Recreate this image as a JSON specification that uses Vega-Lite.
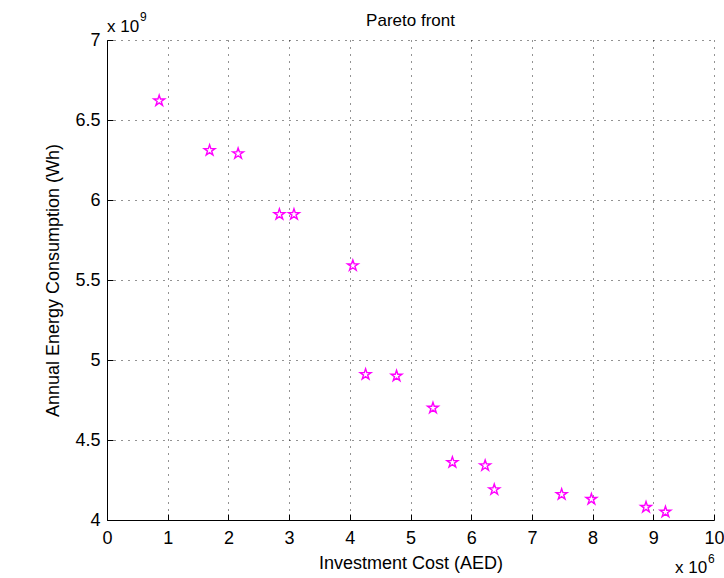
{
  "$schema": "https://vega.github.io/schema/vega-lite/v6.json",
  "width": 607,
  "height": 480,
  "autosize": {"type": "none"},
  "padding": {"left": 107, "top": 40, "right": 10, "bottom": 58},
  "background": "white",
  "config": {
    "view": {"stroke": null},
    "font": "Liberation Sans"
  },
  "data": {
    "values": [
      {"cost": 860000, "energy": 6620000000},
      {"cost": 1690000, "energy": 6310000000},
      {"cost": 2160000, "energy": 6290000000},
      {"cost": 2840000, "energy": 5910000000},
      {"cost": 3080000, "energy": 5910000000},
      {"cost": 4050000, "energy": 5590000000},
      {"cost": 4260000, "energy": 4910000000},
      {"cost": 4770000, "energy": 4900000000},
      {"cost": 5370000, "energy": 4700000000},
      {"cost": 5690000, "energy": 4360000000},
      {"cost": 6230000, "energy": 4340000000},
      {"cost": 6380000, "energy": 4190000000},
      {"cost": 7490000, "energy": 4160000000},
      {"cost": 7980000, "energy": 4130000000},
      {"cost": 8880000, "energy": 4080000000},
      {"cost": 9200000, "energy": 4050000000}
    ]
  },
  "layer": [
    {
      "mark": {
        "type": "point",
        "shape": "M0,-1L0.225,-0.309L0.951,-0.309L0.363,0.118L0.588,0.809L0,0.382L-0.588,0.809L-0.363,0.118L-0.951,-0.309L-0.225,-0.309Z",
        "filled": false,
        "color": "#ff00ff",
        "strokeWidth": 1.4,
        "size": 130,
        "opacity": 1
      },
      "encoding": {
        "x": {
          "field": "cost",
          "type": "quantitative",
          "scale": {"domain": [0, 10000000], "nice": false, "zero": false},
          "axis": {
            "values": [0, 1000000, 2000000, 3000000, 4000000, 5000000, 6000000, 7000000, 8000000, 9000000, 10000000],
            "labelExpr": "format(datum.value / 1000000, '~g')",
            "title": "Investment Cost (AED)",
            "grid": true,
            "gridColor": "#000",
            "gridDash": [1, 6],
            "gridWidth": 1,
            "gridOpacity": 0.85,
            "domainColor": "#000",
            "domainWidth": 1,
            "tickColor": "#000",
            "tickSize": -6,
            "tickWidth": 1,
            "labelFont": "Liberation Sans",
            "labelFontSize": 18,
            "labelColor": "#000",
            "labelPadding": 15,
            "labelFlush": false,
            "labelOverlap": false,
            "titleFont": "Liberation Sans",
            "titleFontSize": 18,
            "titleFontWeight": "normal",
            "titleColor": "#000",
            "titlePadding": 7
          }
        },
        "y": {
          "field": "energy",
          "type": "quantitative",
          "scale": {"domain": [4000000000, 7000000000], "nice": false, "zero": false},
          "axis": {
            "values": [4000000000, 4500000000, 5000000000, 5500000000, 6000000000, 6500000000, 7000000000],
            "labelExpr": "format(datum.value / 1000000000, '~g')",
            "title": "Annual Energy Consumption (Wh)",
            "grid": true,
            "gridColor": "#000",
            "gridDash": [1, 6],
            "gridWidth": 1,
            "gridOpacity": 0.85,
            "domainColor": "#000",
            "domainWidth": 1,
            "tickColor": "#000",
            "tickSize": -6,
            "tickWidth": 1,
            "labelFont": "Liberation Sans",
            "labelFontSize": 18,
            "labelColor": "#000",
            "labelPadding": 13,
            "labelFlush": false,
            "labelOverlap": false,
            "titleFont": "Liberation Sans",
            "titleFontSize": 18,
            "titleFontWeight": "normal",
            "titleColor": "#000",
            "titlePadding": 12
          }
        }
      }
    },
    {
      "description": "Chart heading, centred over the plot",
      "data": {"values": [{}]},
      "mark": {"type": "text", "text": "Pareto front", "align": "center", "baseline": "alphabetic", "font": "Liberation Sans", "fontSize": 17, "fontWeight": "normal", "fill": "#000", "dy": -14},
      "encoding": {
        "x": {"datum": 5000000, "type": "quantitative"},
        "y": {"datum": 7000000000, "type": "quantitative"}
      }
    },
    {
      "description": "Exponent multiplier for the energy axis",
      "data": {"values": [{}]},
      "mark": {"type": "text", "text": "x 10", "align": "left", "baseline": "alphabetic", "font": "Liberation Sans", "fontSize": 17, "fontWeight": "normal", "fill": "#000", "dx": 0, "dy": -8},
      "encoding": {
        "x": {"datum": 0, "type": "quantitative"},
        "y": {"datum": 7000000000, "type": "quantitative"}
      }
    },
    {
      "data": {"values": [{}]},
      "mark": {"type": "text", "text": "9", "align": "left", "baseline": "alphabetic", "font": "Liberation Sans", "fontSize": 12, "fontWeight": "normal", "fill": "#000", "dx": 33, "dy": -19},
      "encoding": {
        "x": {"datum": 0, "type": "quantitative"},
        "y": {"datum": 7000000000, "type": "quantitative"}
      }
    },
    {
      "description": "Exponent multiplier for the cost axis",
      "data": {"values": [{}]},
      "mark": {"type": "text", "text": "x 10", "align": "left", "baseline": "alphabetic", "font": "Liberation Sans", "fontSize": 17, "fontWeight": "normal", "fill": "#000", "dx": -39, "dy": 53},
      "encoding": {
        "x": {"datum": 10000000, "type": "quantitative"},
        "y": {"datum": 4000000000, "type": "quantitative"}
      }
    },
    {
      "data": {"values": [{}]},
      "mark": {"type": "text", "text": "6", "align": "left", "baseline": "alphabetic", "font": "Liberation Sans", "fontSize": 12, "fontWeight": "normal", "fill": "#000", "dx": -6, "dy": 43},
      "encoding": {
        "x": {"datum": 10000000, "type": "quantitative"},
        "y": {"datum": 4000000000, "type": "quantitative"}
      }
    }
  ]
}
